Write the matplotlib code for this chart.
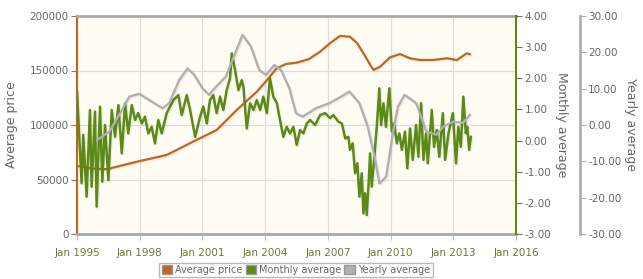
import matplotlib
matplotlib.use("Agg")
import matplotlib.pyplot as plt
from matplotlib.patches import Patch
import matplotlib.patheffects as pe

# Average price (decimal year, GBP)
price_t = [1995.00, 1995.62, 1996.42, 1997.86, 1999.29, 2000.55, 2001.68, 2002.64,
           2003.60, 2004.08, 2004.55, 2005.00, 2005.51, 2006.10, 2006.63, 2007.10,
           2007.58, 2008.06, 2008.40, 2008.70, 2009.00, 2009.18, 2009.50, 2009.98,
           2010.45, 2010.93, 2011.41, 2012.03, 2012.69, 2013.17, 2013.65, 2013.80]
price_v = [62700, 60300, 59400, 66300, 72500, 84700, 95400, 113800,
           130500, 141000, 152000, 156000, 157200, 160500, 167300, 175000,
           181700, 181000, 175000, 165800, 156000, 150500, 153500, 162100,
           165100, 161200, 159600, 159600, 161200, 159600, 165800, 164900]

# Monthly average change (%)
month_t = [1995.00, 1995.22, 1995.30, 1995.46, 1995.62, 1995.70, 1995.86, 1995.94,
           1996.10, 1996.21, 1996.34, 1996.50, 1996.66, 1996.82, 1996.98, 1997.14,
           1997.30, 1997.45, 1997.62, 1997.78, 1997.93, 1998.10, 1998.25, 1998.41,
           1998.57, 1998.73, 1998.89, 1999.05, 1999.29, 1999.61, 1999.85, 2000.01,
           2000.25, 2000.41, 2000.65, 2000.89, 2001.04, 2001.21, 2001.36, 2001.52,
           2001.68, 2001.84, 2002.00, 2002.16, 2002.32, 2002.40, 2002.56, 2002.72,
           2002.88, 2002.96, 2003.12, 2003.28, 2003.44, 2003.60, 2003.76, 2003.91,
           2004.08, 2004.23, 2004.39, 2004.56, 2004.71, 2004.87, 2005.03, 2005.19,
           2005.35, 2005.51, 2005.67, 2005.83, 2005.99, 2006.15, 2006.39, 2006.63,
           2006.87, 2007.11, 2007.26, 2007.50, 2007.67, 2007.83, 2007.98, 2008.06,
           2008.19, 2008.30, 2008.41, 2008.51, 2008.62, 2008.70, 2008.78, 2008.86,
           2008.94, 2009.02, 2009.10, 2009.21, 2009.34, 2009.46, 2009.55, 2009.66,
           2009.78, 2009.94, 2010.06, 2010.17, 2010.30, 2010.42, 2010.54, 2010.69,
           2010.80, 2010.93, 2011.06, 2011.22, 2011.33, 2011.46, 2011.57, 2011.70,
           2011.78, 2011.97, 2012.08, 2012.21, 2012.33, 2012.50, 2012.61, 2012.77,
           2012.98, 2013.13, 2013.24, 2013.36, 2013.48, 2013.60, 2013.67, 2013.76,
           2013.84]
month_v = [1.57, -1.37, 0.18, -1.80, 0.98, -1.48, 0.93, -2.12,
           1.09, -1.32, 0.50, -1.27, 0.98, 0.12, 1.14, -0.41,
           1.20, 0.23, 1.14, 0.66, 0.88, 0.55, 0.77, 0.23,
           0.44, -0.09, 0.66, 0.23, 0.88, 1.30, 1.46, 0.82,
           1.46, 0.98, 0.12, 0.77, 1.09, 0.55, 1.30, 1.46,
           0.88, 1.41, 0.98, 1.62, 2.00, 2.80, 2.27, 1.62,
           1.94, 1.73, 0.39, 1.20, 0.98, 1.30, 0.98, 1.41,
           0.88, 2.00, 1.41, 1.20, 0.66, 0.12, 0.44, 0.23,
           0.44, -0.14, 0.34, 0.23, 0.55, 0.66, 0.50, 0.82,
           0.88, 0.72, 0.82, 0.61, 0.55, 0.07, 0.12, -0.30,
           -0.09, -1.05, -0.73, -1.80, -1.05, -2.34, -1.69, -2.39,
           -1.48, -0.41, -1.48, -0.62, 0.44, 1.68, 0.50, 1.20,
           0.44, 1.68, 0.29, 0.55, -0.09, 0.23, -0.30, 0.29,
           -0.89, 0.39, -0.62, 0.50, -0.52, 1.20, -0.62, 0.23,
           -0.73, 0.98, -0.20, 0.34, -0.52, 0.88, -0.62, 0.23,
           0.88, -0.73, 0.44, -0.20, 1.41, 0.23, 0.44, -0.30,
           0.12]

# Yearly average change (%)
year_t = [1995.97, 1996.55, 1997.02, 1997.50, 1997.98, 1998.45, 1999.09, 1999.41,
          1999.89, 2000.29, 2000.61, 2001.00, 2001.32, 2001.64, 2002.12, 2002.44,
          2002.92, 2003.32, 2003.72, 2004.04, 2004.44, 2004.76, 2005.16, 2005.48,
          2005.80, 2006.43, 2007.07, 2007.63, 2008.03, 2008.51, 2008.91, 2009.23,
          2009.47, 2009.79, 2010.11, 2010.35, 2010.67, 2011.23, 2011.71, 2012.19,
          2012.51, 2012.99, 2013.47, 2013.79]
year_v = [-4.1, -1.8, 2.8, 7.8, 8.6, 6.9, 4.6, 6.0,
          12.4, 15.6, 13.8, 10.1, 8.3, 10.5, 13.3, 17.9,
          24.8, 21.6, 15.1, 13.8, 16.5, 15.1, 10.1, 3.2,
          2.3, 4.6, 6.0, 7.8, 9.2, 6.0, -0.5, -8.7,
          -16.1, -14.2, -2.3, 5.0, 8.3, 6.0, -1.8, -2.7,
          -0.5, 0.9, 0.6, 2.8]

years = [1995, 1998, 2001, 2004, 2007, 2010, 2013, 2016]

c_price = "#c2661f"
c_month = "#5b8a17"
c_year = "#b0b0b0"
c_text = "#666666"
c_xlab = "#6a7a32"

fig = plt.figure(figsize=(6.43, 2.79), dpi=100)
fig.patch.set_facecolor("white")
ax = fig.add_axes([77 / 643, 45 / 279, 439 / 643, 218 / 279])
ax.set_facecolor("#fffcf3")
ax2 = ax.twinx()
ax3 = ax.twinx()

shadow = [pe.SimpleLineShadow(offset=(1, -1), shadow_color="#000000", alpha=0.06),
          pe.Normal()]

ax.plot(price_t, price_v, color=c_price, lw=1.6, zorder=3, path_effects=shadow)
ax2.plot(month_t, month_v, color=c_month, lw=1.8, zorder=3, path_effects=shadow)
ax3.plot(year_t, year_v, color=c_year, lw=1.7, zorder=3, path_effects=shadow)

ax.set_xlim(1995, 2016)
ax.set_ylim(0, 200000)
ax2.set_ylim(-3, 4)
ax3.set_ylim(-30, 30)

ax.set_xticks(years)
ax.set_xticklabels([f"Jan {y}" for y in years], color=c_xlab, fontsize=7.5)
ax.set_yticks(range(0, 200001, 50000))
ax.tick_params(axis="y", labelsize=7.5, colors=c_text, length=4, color=c_price, pad=2)
ax.tick_params(axis="x", length=4, color="#bbbbbb", pad=6)
ax.grid(True, color="#dddddd", lw=0.9)
ax.set_axisbelow(True)

ax2.set_yticks(range(-3, 5))
ax2.set_yticklabels([f"{v:.2f}" for v in range(-3, 5)])
ax2.tick_params(axis="y", labelsize=7.5, colors=c_text, length=4, color=c_month, pad=2)

ax3.set_yticks(range(-30, 31, 10))
ax3.set_yticklabels([f"{v:.2f}" for v in range(-30, 31, 10)])
ax3.spines["right"].set_position(("outward", 46))
ax3.tick_params(axis="y", labelsize=7.5, colors=c_text, length=4, color=c_year, pad=2)

for a in (ax, ax2, ax3):
    for s in a.spines.values():
        s.set_visible(False)
ax.spines["left"].set_visible(True)
ax.spines["left"].set_color(c_price)
ax.spines["left"].set_linewidth(1.5)
ax.spines["bottom"].set_visible(True)
ax.spines["bottom"].set_color("#aaaaaa")
ax.spines["bottom"].set_linewidth(2)
ax.spines["top"].set_visible(True)
ax.spines["top"].set_color("#aaaaaa")
ax.spines["top"].set_linewidth(2)
ax2.spines["right"].set_visible(True)
ax2.spines["right"].set_color(c_month)
ax2.spines["right"].set_linewidth(1.5)
ax3.spines["right"].set_visible(True)
ax3.spines["right"].set_color(c_year)
ax3.spines["right"].set_linewidth(2)

ax.set_ylabel("Average price", color=c_text, fontsize=9, labelpad=8)
ax2.set_ylabel("Monthly average", color=c_text, fontsize=9, rotation=270, labelpad=12)
ax3.set_ylabel("Yearly average", color=c_text, fontsize=9, rotation=270, labelpad=11)

handles = [Patch(facecolor=c_price, edgecolor="#999999"),
           Patch(facecolor=c_month, edgecolor="#999999"),
           Patch(facecolor=c_year, edgecolor="#999999")]
leg = fig.legend(handles, ["Average price", "Monthly average", "Yearly average"],
                 loc="center", bbox_to_anchor=(296 / 643, 9 / 279), ncol=3,
                 fontsize=7, frameon=True, fancybox=False, handlelength=1.1,
                 handleheight=1.1, handletextpad=0.3, columnspacing=0.3,
                 borderpad=0.25, labelcolor=c_text)
leg.get_frame().set_edgecolor("#aaaaaa")
leg.get_frame().set_linewidth(1)

fig.savefig("out.png", dpi=100)
